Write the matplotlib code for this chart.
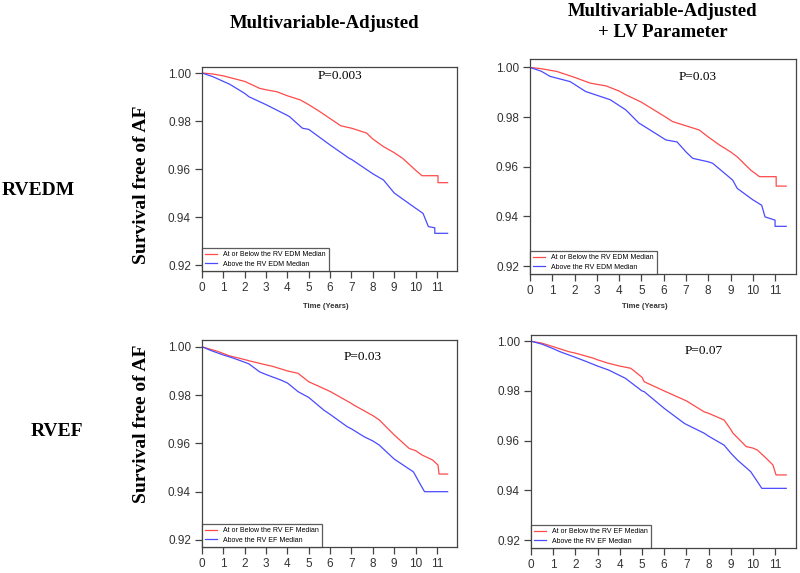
import matplotlib.pyplot as plt
from matplotlib.ticker import FormatStrFormatter

# survival curves (time in years, survival free of AF)
tl_red_t = [0, 0.5, 1, 2, 2.7, 3, 3.5, 4, 4.6, 5, 5.5, 6, 6.5, 7, 7.7, 8, 8.5, 9, 9.4, 10, 10.3, 11.05, 11.05, 11.5]
tl_red_s = [1.0, 0.9996, 0.9988, 0.9965, 0.9936, 0.993, 0.9922, 0.9905, 0.9888, 0.9868, 0.984, 0.981, 0.978, 0.977, 0.975, 0.9725, 0.9693, 0.9668, 0.9644, 0.9595, 0.9572, 0.9572, 0.9543, 0.9543]
tl_blue_t = [0, 0.5, 1, 1.3, 2, 2.2, 3, 4, 4.1, 4.7, 5, 6, 6.9, 7, 8, 8.5, 9, 9.9, 10.35, 10.6, 10.9, 10.9, 11.5]
tl_blue_s = [1.0, 0.9985, 0.9965, 0.9953, 0.9915, 0.9901, 0.9868, 0.9823, 0.9818, 0.977, 0.9765, 0.970, 0.9644, 0.964, 0.958, 0.9554, 0.950, 0.9443, 0.9415, 0.936, 0.9355, 0.9332, 0.9332]

tr_red_t = [0, 0.5, 1, 1.2, 2, 2.7, 3, 3.4, 4, 4.3, 5, 5.2, 6, 6.4, 7, 7.6, 8, 8.5, 9, 9.3, 9.9, 10.3, 11.05, 11.05, 11.5]
tr_red_s = [1.0, 0.9995, 0.9987, 0.9984, 0.996, 0.9937, 0.9932, 0.9926, 0.9905, 0.989, 0.986, 0.9849, 0.9805, 0.9782, 0.9765, 0.9748, 0.972, 0.9688, 0.966, 0.964, 0.9587, 0.956, 0.956, 0.9522, 0.9522]
tr_blue_t = [0, 0.5, 0.9, 1.8, 2.5, 3, 3.6, 4.3, 4.9, 5, 6.1, 6.6, 7, 7.3, 8, 8.2, 9.1, 9.3, 10, 10.4, 10.55, 11.0, 11.0, 11.5]
tr_blue_s = [1.0, 0.9985, 0.9964, 0.9943, 0.9903, 0.9888, 0.987, 0.9829, 0.9775, 0.977, 0.9708, 0.970, 0.966, 0.9634, 0.962, 0.9614, 0.9546, 0.9513, 0.9467, 0.9445, 0.9398, 0.9385, 0.936, 0.936]

bl_red_t = [0, 0.3, 0.7, 1.3, 2, 2.2, 3, 3.3, 4, 4.5, 5, 6, 6.5, 7, 7.1, 8, 8.3, 9, 9.1, 9.7, 10, 10.3, 10.8, 11.05, 11.1, 11.5]
bl_red_s = [1.0, 0.9992, 0.9982, 0.9962, 0.9947, 0.9942, 0.9925, 0.9919, 0.990, 0.989, 0.9855, 0.9815, 0.979, 0.9765, 0.9759, 0.9715, 0.9697, 0.9635, 0.9627, 0.9579, 0.957, 0.9552, 0.9531, 0.951, 0.9473, 0.9473]
bl_blue_t = [0, 0.4, 1, 1.4, 2, 2.2, 2.7, 3, 3.7, 4, 4.5, 5, 5.7, 6, 6.8, 7, 7.6, 8, 8.3, 9, 9.9, 10.2, 10.42, 11.5]
bl_blue_s = [1.0, 0.9985, 0.9966, 0.9955, 0.9936, 0.9929, 0.9896, 0.9885, 0.9862, 0.985, 0.9814, 0.979, 0.9738, 0.972, 0.9669, 0.966, 0.9627, 0.961, 0.9593, 0.9535, 0.9482, 0.9434, 0.940, 0.940]

br_red_t = [0, 0.5, 1, 1.7, 2, 2.8, 3, 3.5, 4, 4.5, 5, 5.1, 6, 6.9, 7, 7.8, 8, 8.7, 9, 9.1, 9.7, 10, 10.2, 10.6, 10.9, 11.04, 11.5]
br_red_s = [1.0, 0.9992, 0.9978, 0.9958, 0.9952, 0.9932, 0.9925, 0.9911, 0.990, 0.9891, 0.9855, 0.9837, 0.980, 0.9764, 0.976, 0.9716, 0.971, 0.9683, 0.9645, 0.963, 0.9576, 0.957, 0.9562, 0.9529, 0.9502, 0.9462, 0.9462]
br_blue_t = [0, 0.5, 1, 1.3, 2, 2.5, 3, 3.5, 4, 4.25, 5, 5.1, 6, 6.9, 7, 7.8, 8, 8.7, 9, 9.3, 9.9, 10.2, 10.4, 11.5]
br_blue_s = [1.0, 0.9988, 0.997, 0.9958, 0.9935, 0.9918, 0.990, 0.9884, 0.9862, 0.9851, 0.980, 0.9797, 0.973, 0.967, 0.9665, 0.963, 0.9618, 0.9582, 0.955, 0.9522, 0.9475, 0.9435, 0.9408, 0.9408]

p_values = ["P=0.003", "P=0.03", "P=0.03", "P=0.07"]
legend_edm = ["At or Below the RV EDM Median", "Above the RV EDM Median"]
legend_ef = ["At or Below the RV EF Median", "Above the RV EF Median"]
col_titles = ["Multivariable-Adjusted", "Multivariable-Adjusted\n+ LV Parameter"]
row_titles = ["RVEDM", "RVEF"]
x_ticks = list(range(0, 12))
y_ticks = [0.92, 0.94, 0.96, 0.98, 1.00]

red = "#ff4a4a"
blue = "#4a4aff"
grey = "#444444"
W, H = 800, 573


def px_axes(x0, y0, x1, y1):
    # pixel box (top-left origin) -> figure axes
    return fig.add_axes([x0 / W, 1 - y1 / H, (x1 - x0) / W, (y1 - y0) / H])


fig = plt.figure(figsize=(8, 5.73), dpi=100)

panels = [
    ((202, 67, 457, 271), (0.9175, 1.0025), tl_red_t, tl_red_s, tl_blue_t, tl_blue_s, legend_edm, (0.54, 0.955)),
    ((530, 59, 796, 274), (0.9168, 1.0034), tr_red_t, tr_red_s, tr_blue_t, tr_blue_s, legend_edm, (0.63, 0.915)),
    ((202, 340, 457, 547), (0.9171, 1.0028), bl_red_t, bl_red_s, bl_blue_t, bl_blue_s, legend_ef, (0.63, 0.92)),
    ((531, 335, 796, 548), (0.9168, 1.0025), br_red_t, br_red_s, br_blue_t, br_blue_s, legend_ef, (0.65, 0.925)),
]

for i, (box, ylim, rt, rs, bt, bs, labels, ppos) in enumerate(panels):
    ax = px_axes(*box)
    ax.plot(rt, rs, color=red, lw=0.9, label=labels[0])
    ax.plot(bt, bs, color=blue, lw=0.9, label=labels[1])
    ax.set_xlim(0, 11.94)
    ax.set_ylim(*ylim)
    ax.set_xticks(x_ticks)
    ax.set_yticks(y_ticks)
    ax.yaxis.set_major_formatter(FormatStrFormatter("%.2f"))
    ax.tick_params(direction="out", length=5, width=0.9, color=grey, labelsize=8.5,
                   labelcolor="#333333", pad=3)
    for lab in ax.get_xticklabels() + ax.get_yticklabels():
        lab.set_family("Liberation Sans")
    for sp in ax.spines.values():
        sp.set_color(grey)
        sp.set_linewidth(0.9)
    leg = ax.legend(loc="lower left", borderaxespad=0, fancybox=False,
                    handlelength=1.7, handletextpad=0.8, labelspacing=0.35,
                    borderpad=0.5, prop={"family": "Liberation Sans", "size": 5})
    leg.get_frame().set_edgecolor("#333333")
    leg.get_frame().set_linewidth(0.9)
    ax.text(ppos[0], ppos[1], p_values[i], transform=ax.transAxes, ha="center", va="center",
            fontsize=9.5, family="Liberation Serif")

bold_serif = {"family": "Liberation Serif", "weight": "bold"}
fig.text(325 / W, 1 - 24 / H, col_titles[0], ha="center", va="center", fontsize=13.5, **bold_serif)
fig.text(663 / W, 1 - 22 / H, col_titles[1], ha="center", va="center", fontsize=13.5,
         linespacing=1.3, **bold_serif)
fig.text(38 / W, 1 - 191 / H, row_titles[0], ha="center", va="center", fontsize=14, **bold_serif)
fig.text(57 / W, 1 - 432 / H, row_titles[1], ha="center", va="center", fontsize=14, **bold_serif)
fig.text(142 / W, 1 - 185 / H, "Survival free of AF", rotation=90, ha="center", va="center",
         fontsize=14, **bold_serif)
fig.text(142 / W, 1 - 424 / H, "Survival free of AF", rotation=90, ha="center", va="center",
         fontsize=14, **bold_serif)
fig.text(326 / W, 1 - 306 / H, "Time (Years)", ha="center", va="center", fontsize=5.5,
         family="Liberation Sans", weight="bold", color="#333333")
fig.text(645 / W, 1 - 306 / H, "Time (Years)", ha="center", va="center", fontsize=5.5,
         family="Liberation Sans", weight="bold", color="#333333")

fig.savefig("out.png", dpi=100)
